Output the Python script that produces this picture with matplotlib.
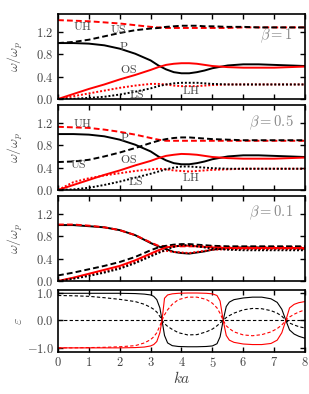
import numpy as np
import matplotlib
matplotlib.use('Agg')
import matplotlib.pyplot as plt
from matplotlib.ticker import FixedLocator, FuncFormatter

plt.rcParams['mathtext.fontset'] = 'cm'
plt.rcParams['font.family'] = ['DejaVu Serif']

# ka grid for the three dispersion panels
k = [0, 0.5, 1, 1.5, 2, 2.5, 3, 3.25, 3.5, 3.75, 4, 4.25, 4.5, 4.75, 5, 5.5, 6, 6.5, 7, 7.5, 8]

# beta = 1
b1_uh = [1.41, 1.40, 1.39, 1.37, 1.35, 1.32, 1.29, 1.28, 1.27, 1.27, 1.27, 1.27, 1.27, 1.27, 1.27, 1.27, 1.28, 1.28, 1.28, 1.28, 1.28]
b1_us = [1.00, 1.02, 1.06, 1.12, 1.18, 1.23, 1.26, 1.27, 1.29, 1.30, 1.31, 1.31, 1.31, 1.30, 1.30, 1.29, 1.29, 1.28, 1.28, 1.28, 1.28]
b1_p = [1.00, 1.00, 0.99, 0.96, 0.90, 0.81, 0.69, 0.60, 0.53, 0.48, 0.46, 0.46, 0.48, 0.51, 0.55, 0.60, 0.62, 0.62, 0.61, 0.60, 0.59]
b1_os = [0.00, 0.09, 0.18, 0.26, 0.35, 0.43, 0.52, 0.57, 0.61, 0.63, 0.64, 0.64, 0.63, 0.61, 0.59, 0.57, 0.56, 0.56, 0.56, 0.57, 0.58]
b1_ls = [0.00, 0.005, 0.02, 0.04, 0.08, 0.13, 0.19, 0.23, 0.26, 0.28, 0.29, 0.29, 0.29, 0.28, 0.27, 0.26, 0.26, 0.26, 0.26, 0.26, 0.26]
b1_lh = [0.00, 0.05, 0.10, 0.15, 0.20, 0.24, 0.27, 0.27, 0.26, 0.24, 0.23, 0.23, 0.23, 0.24, 0.25, 0.26, 0.26, 0.26, 0.26, 0.26, 0.26]

# beta = 0.5
b2_uh = [1.13, 1.12, 1.11, 1.08, 1.04, 0.99, 0.93, 0.90, 0.88, 0.88, 0.88, 0.88, 0.88, 0.88, 0.88, 0.88, 0.88, 0.88, 0.88, 0.88, 0.88]
b2_us = [0.50, 0.51, 0.54, 0.60, 0.67, 0.75, 0.84, 0.88, 0.91, 0.93, 0.94, 0.94, 0.93, 0.92, 0.91, 0.90, 0.89, 0.89, 0.89, 0.89, 0.89]
b2_p = [1.00, 1.00, 0.99, 0.96, 0.90, 0.81, 0.69, 0.60, 0.53, 0.48, 0.46, 0.46, 0.48, 0.51, 0.55, 0.60, 0.62, 0.62, 0.61, 0.60, 0.59]
b2_os = [0.00, 0.09, 0.18, 0.27, 0.35, 0.44, 0.52, 0.57, 0.61, 0.63, 0.645, 0.64, 0.63, 0.61, 0.59, 0.57, 0.56, 0.56, 0.56, 0.57, 0.58]
b2_ls = [0.00, 0.01, 0.04, 0.09, 0.15, 0.22, 0.29, 0.33, 0.37, 0.40, 0.42, 0.42, 0.41, 0.40, 0.39, 0.38, 0.38, 0.38, 0.38, 0.38, 0.38]
b2_lh = [0.00, 0.14, 0.21, 0.26, 0.30, 0.34, 0.37, 0.38, 0.37, 0.35, 0.34, 0.33, 0.34, 0.35, 0.36, 0.37, 0.38, 0.38, 0.38, 0.38, 0.38]

# beta = 0.1
b3_uh = [1.01, 1.01, 0.99, 0.96, 0.91, 0.82, 0.69, 0.63, 0.62, 0.62, 0.62, 0.62, 0.62, 0.62, 0.62, 0.61, 0.61, 0.61, 0.61, 0.61, 0.61]
b3_us = [0.10, 0.15, 0.21, 0.27, 0.34, 0.43, 0.55, 0.60, 0.63, 0.65, 0.66, 0.66, 0.65, 0.64, 0.63, 0.62, 0.62, 0.62, 0.62, 0.62, 0.62]
b3_p = [1.00, 1.00, 0.98, 0.96, 0.91, 0.82, 0.68, 0.62, 0.57, 0.52, 0.50, 0.49, 0.51, 0.53, 0.56, 0.59, 0.60, 0.60, 0.59, 0.59, 0.58]
b3_os = [0.00, 0.06, 0.13, 0.20, 0.27, 0.37, 0.49, 0.55, 0.60, 0.62, 0.63, 0.63, 0.62, 0.61, 0.60, 0.59, 0.59, 0.59, 0.59, 0.59, 0.59]
b3_ls = [0.00, 0.04, 0.09, 0.15, 0.22, 0.32, 0.44, 0.50, 0.56, 0.61, 0.64, 0.64, 0.62, 0.60, 0.58, 0.56, 0.55, 0.55, 0.55, 0.55, 0.55]
b3_lh = [0.00, 0.05, 0.11, 0.17, 0.24, 0.34, 0.46, 0.52, 0.54, 0.52, 0.51, 0.50, 0.52, 0.54, 0.56, 0.57, 0.57, 0.57, 0.57, 0.57, 0.57]

# epsilon panel, denser grid around the sign flips
k4 = [0, 0.5, 1, 1.5, 2, 2.5, 2.8, 3.0, 3.1, 3.2, 3.3, 3.37, 3.45, 3.55, 3.7, 3.9, 4.2, 4.5, 4.8,
      5.0, 5.15, 5.25, 5.35, 5.45, 5.55, 5.7, 6.0, 6.3, 6.6, 6.9, 7.1, 7.25, 7.38, 7.5, 7.65, 7.8, 8.0]
e_bs = [0.98, 0.98, 0.98, 0.98, 0.98, 0.97, 0.95, 0.92, 0.87, 0.75, 0.45, 0.0, -0.55, -0.82, -0.92, -0.95, -0.96, -0.96, -0.95,
        -0.93, -0.85, -0.6, 0.0, 0.5, 0.66, 0.75, 0.81, 0.84, 0.84, 0.78, 0.65, 0.4, 0.0, -0.35, -0.5, -0.58, -0.65]
e_rs = [-1.0, -1.0, -1.0, -1.0, -1.0, -0.99, -0.97, -0.93, -0.88, -0.77, -0.45, 0.0, 0.8, 0.92, 0.96, 0.98, 0.99, 0.99, 0.98,
        0.96, 0.9, 0.7, 0.0, -0.55, -0.72, -0.8, -0.86, -0.88, -0.88, -0.84, -0.72, -0.45, 0.0, 0.45, 0.58, 0.64, 0.68]
e_bd = [0.90, 0.89, 0.87, 0.82, 0.76, 0.68, 0.58, 0.47, 0.40, 0.30, 0.14, 0.0, -0.12, -0.22, -0.33, -0.45, -0.53, -0.52, -0.42,
        -0.32, -0.2, -0.1, 0.0, 0.1, 0.17, 0.26, 0.38, 0.43, 0.42, 0.35, 0.26, 0.15, 0.0, -0.1, -0.17, -0.23, -0.28]
e_rd = [-1.0, -1.0, -0.99, -0.98, -0.96, -0.92, -0.82, -0.7, -0.6, -0.45, -0.2, 0.0, 0.2, 0.38, 0.58, 0.75, 0.84, 0.84, 0.76,
        0.62, 0.45, 0.25, 0.0, -0.2, -0.3, -0.42, -0.53, -0.56, -0.52, -0.42, -0.3, -0.17, 0.0, 0.12, 0.22, 0.3, 0.38]

RED = '#ff0000'
TXT = '#444444'

def fmt(v, pos):
    return '$%.1f$' % v

fig = plt.figure(figsize=(3.09, 3.94), dpi=100)
left, width = 0.1877, 0.7993
boxes = [(0.7487, 0.2158), (0.5178, 0.2157), (0.2868, 0.2157), (0.1066, 0.1574)]
axs = [fig.add_axes([left, b, width, h]) for b, h in boxes]

panels = [
    (b1_uh, b1_us, b1_p, b1_os, b1_ls, b1_lh, r'$\beta = 1$', 1.13),
    (b2_uh, b2_us, b2_p, b2_os, b2_ls, b2_lh, r'$\beta = 0.5$', 1.21),
    (b3_uh, b3_us, b3_p, b3_os, b3_ls, b3_lh, r'$\beta = 0.1$', 1.22),
]

lw = 1.4
for ax, (uh, us, p, os_, ls, lh, lab, ly) in zip(axs[:3], panels):
    ax.plot(k, p, color='k', lw=lw)
    ax.plot(k, uh, color=RED, lw=lw, dashes=(3, 1.6))
    ax.plot(k, us, color='k', lw=lw, dashes=(3, 1.6))
    ax.plot(k, os_, color=RED, lw=lw)
    ax.plot(k, lh, color=RED, lw=lw, dashes=(1, 1))
    ax.plot(k, ls, color='k', lw=lw, dashes=(1, 1))
    ax.set_ylim(0, 1.52)
    ax.yaxis.set_major_locator(FixedLocator([0, 0.4, 0.8, 1.2]))
    ax.text(7.62, ly, lab, ha='right', va='center', fontsize=10.5, color='#888888')
    ax.set_ylabel(r'$\omega/\omega_p$', fontsize=10, color='#555555')

lab_kw = dict(fontsize=8.5, color=TXT, ha='center', va='center')
a1 = axs[0]
a1.text(0.8, 1.29, r'$\mathrm{UH}$', **lab_kw)
a1.text(1.96, 1.24, r'$\mathrm{US}$', **lab_kw)
a1.text(2.13, 0.93, r'$\mathrm{P}$', **lab_kw)
a1.text(2.27, 0.53, r'$\mathrm{OS}$', **lab_kw)
a1.text(2.54, 0.08, r'$\mathrm{LS}$', **lab_kw)
a1.text(4.29, 0.15, r'$\mathrm{LH}$', **lab_kw)

a2 = axs[1]
a2.text(0.8, 1.19, r'$\mathrm{UH}$', **lab_kw)
a2.text(2.15, 0.93, r'$\mathrm{P}$', **lab_kw)
a2.text(0.66, 0.45, r'$\mathrm{US}$', **lab_kw)
a2.text(2.27, 0.54, r'$\mathrm{OS}$', **lab_kw)
a2.text(2.5, 0.16, r'$\mathrm{LS}$', **lab_kw)
a2.text(4.29, 0.23, r'$\mathrm{LH}$', **lab_kw)

a4 = axs[3]
lw4 = 0.8
a4.axhline(0, color='k', lw=lw4, dashes=(3, 2))
a4.plot(k4, e_bd, color='k', lw=lw4, dashes=(3, 2))
a4.plot(k4, e_rd, color=RED, lw=lw4, dashes=(3, 2))
a4.plot(k4, e_bs, color='k', lw=lw4)
a4.plot(k4, e_rs, color=RED, lw=lw4)
a4.set_ylim(-1.15, 1.1)
a4.yaxis.set_major_locator(FixedLocator([-1.0, 0.0, 1.0]))
a4.set_ylabel(r'$\varepsilon$', fontsize=10, color='#555555')
a4.set_xlabel(r'$ka$', fontsize=11, color='#444444', labelpad=0)

for i, ax in enumerate(axs):
    ax.set_xlim(0, 8)
    ax.xaxis.set_major_locator(FixedLocator(range(9)))
    ax.tick_params(direction='in', top=True, right=True, length=3.5, width=1.0,
                   labelsize=9, labelcolor=TXT, pad=3)
    ax.yaxis.set_major_formatter(FuncFormatter(fmt))
    ax.xaxis.set_major_formatter(FuncFormatter(lambda v, p: '$%d$' % v))
    if i < 3:
        ax.tick_params(labelbottom=False)
    for s in ax.spines.values():
        s.set_linewidth(1.2)

# align the y labels
for ax in axs:
    ax.yaxis.set_label_coords(-0.135, 0.5)

fig.savefig('out.png', dpi=100)
